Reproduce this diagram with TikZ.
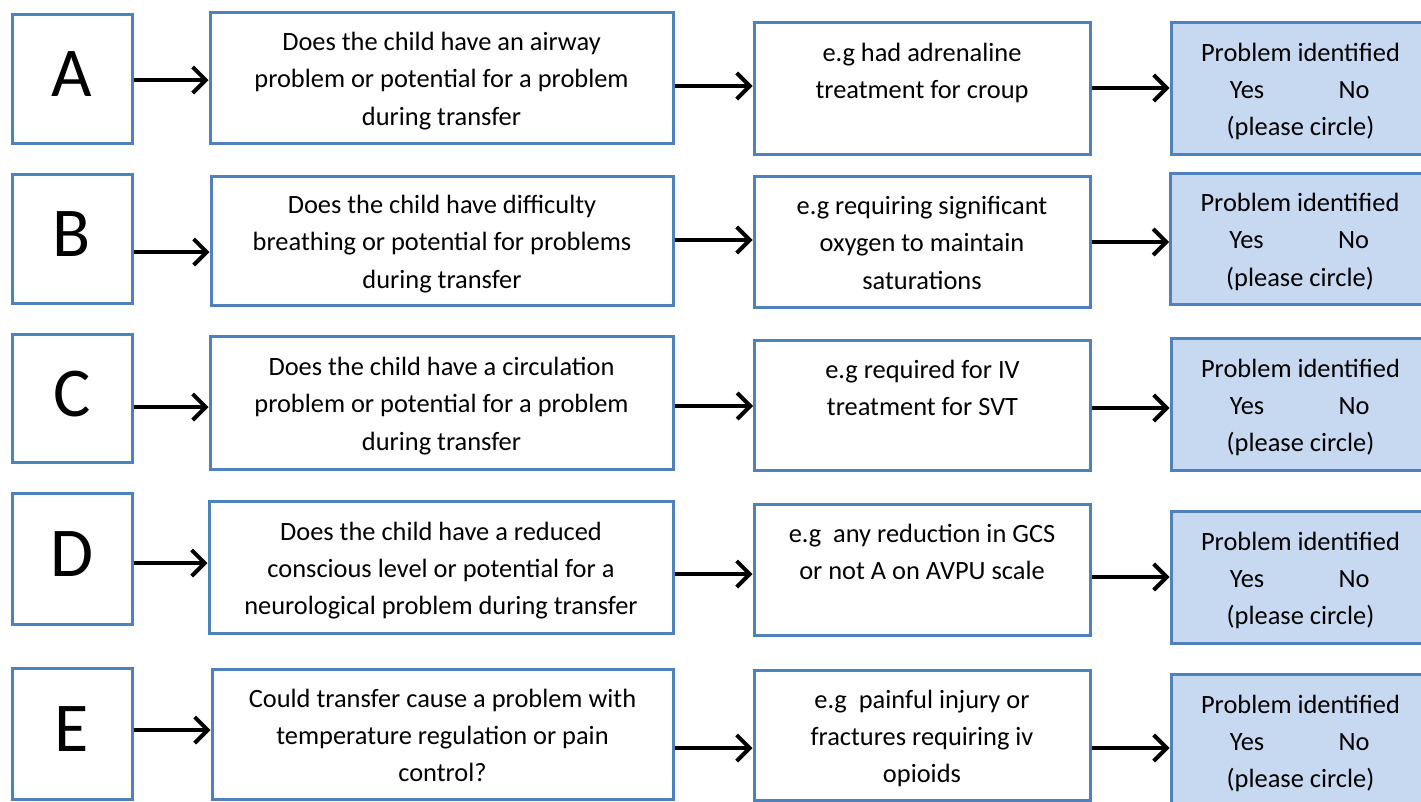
\documentclass[tikz,border=0pt]{standalone}
\usepackage{fontspec}
\setmainfont{Carlito}
\usetikzlibrary{arrows.meta}
\definecolor{boxblue}{RGB}{79,129,189}
\definecolor{fillblue}{RGB}{198,217,241}
\newcommand\myfirst{\rule{0pt}{32pt}}
\begin{document}
\begin{tikzpicture}[x=1pt,y=-1pt,
 box/.style={draw=boxblue,line width=3pt,rectangle,inner sep=0pt,align=center,font=\fontsize{26.4}{37.2}\selectfont},
 letterbox/.style={box,fill=white,minimum width=120pt,font=\fontsize{70}{80}\selectfont},
 qbox/.style={box,fill=white},
 ebox/.style={box,fill=white,minimum width=336pt},
 pbox/.style={box,fill=fillblue,minimum width=259pt},
 arr/.style={line width=3.6pt,-{Straight Barb[length=13pt,width=26pt,line width=4pt]}}]
\useasboundingbox (0,0) rectangle (1421,801);
\fill[white] (0,0) rectangle (1421,801);

% Row A
\node[letterbox,minimum height=129pt] (la) at (72,78.5) {\raisebox{9pt}{A}};
\node[qbox,minimum width=463pt,minimum height=131pt] (qa) at (441.5,77.5) {\myfirst Does the child have an airway\\problem or potential for a problem\\during transfer\strut};
\node[ebox,minimum height=132pt] (ea) at (922,88) {\myfirst e.g had adrenaline\\treatment for croup\\\strut};
\node[pbox,minimum height=132pt] (pa) at (1300.5,88) {\myfirst Problem identified\\\makebox[0pt]{Yes}\hspace{107pt}\makebox[0pt]{No}\\(please circle)\strut};

% Row B
\node[letterbox,minimum height=129pt] (lb) at (72,238.5) {\raisebox{9pt}{B}};
\node[qbox,minimum width=462pt,minimum height=129pt] (qb) at (442,240.5) {\myfirst Does the child have difficulty\\breathing or potential for problems\\during transfer\strut};
\node[ebox,minimum height=131pt] (eb) at (922,241.5) {\myfirst e.g requiring significant\\oxygen to maintain\\saturations\strut};
\node[pbox,minimum height=131pt] (pb) at (1300,238.5) {\myfirst Problem identified\\\makebox[0pt]{Yes}\hspace{107pt}\makebox[0pt]{No}\\(please circle)\strut};

% Row C
\node[letterbox,minimum height=128pt] (lc) at (72,398) {\raisebox{9pt}{C}};
\node[qbox,minimum width=463pt,minimum height=133pt] (qc) at (441.5,402.5) {\myfirst Does the child have a circulation\\problem or potential for a problem\\during transfer\strut};
\node[ebox,minimum height=130pt] (ec) at (922.5,405) {\myfirst e.g required for IV\\treatment for SVT\\\strut};
\node[pbox,minimum height=132pt] (pc) at (1300.5,404) {\myfirst Problem identified\\\makebox[0pt]{Yes}\hspace{107pt}\makebox[0pt]{No}\\(please circle)\strut};

% Row D
\node[letterbox,minimum height=131pt] (ld) at (72,558.5) {\raisebox{9pt}{D}};
\node[qbox,minimum width=464pt,minimum height=132pt] (qd) at (441,567) {\myfirst Does the child have a reduced\\conscious level or potential for a\\neurological problem during transfer\strut};
\node[ebox,minimum height=131pt] (ed) at (922,569.5) {\myfirst e.g\ \ any reduction in GCS\\or not A on AVPU scale\\\strut};
\node[pbox,minimum height=132pt] (pd) at (1300.5,577) {\myfirst Problem identified\\\makebox[0pt]{Yes}\hspace{107pt}\makebox[0pt]{No}\\(please circle)\strut};

% Row E
\node[letterbox,minimum height=131pt] (le) at (72,733.5) {\raisebox{9pt}{E}};
\node[qbox,minimum width=461pt,minimum height=130pt] (qe) at (442.5,734) {\myfirst Could transfer cause a problem with\\temperature regulation or pain\\control?\strut};
\node[ebox,minimum height=130pt] (ee) at (922,735) {\myfirst e.g\ \ painful injury or\\fractures requiring iv\\opioids\strut};
\node[pbox,minimum height=132pt] (pe) at (1300.5,740) {\myfirst Problem identified\\\makebox[0pt]{Yes}\hspace{107pt}\makebox[0pt]{No}\\(please circle)\strut};

% Arrows
\draw[arr] (la.east |- 0,80) -- (qa.west |- 0,80);
\draw[arr] (qa.east |- 0,86) -- (ea.west |- 0,86);
\draw[arr] (ea.east |- 0,88) -- (pa.west |- 0,88);

\draw[arr] (lb.east |- 0,252) -- (qb.west |- 0,252);
\draw[arr] (qb.east |- 0,240) -- (eb.west |- 0,240);
\draw[arr] (eb.east |- 0,242) -- (pb.west |- 0,242);

\draw[arr] (lc.east |- 0,407) -- (qc.west |- 0,407);
\draw[arr] (qc.east |- 0,406) -- (ec.west |- 0,406);
\draw[arr] (ec.east |- 0,408) -- (pc.west |- 0,408);

\draw[arr] (ld.east |- 0,563) -- (qd.west |- 0,563);
\draw[arr] (qd.east |- 0,574) -- (ed.west |- 0,574);
\draw[arr] (ed.east |- 0,577) -- (pd.west |- 0,577);

\draw[arr] (le.east |- 0,730) -- (qe.west |- 0,730);
\draw[arr] (qe.east |- 0,748) -- (ee.west |- 0,748);
\draw[arr] (ee.east |- 0,748) -- (pe.west |- 0,748);
\end{tikzpicture}
\end{document}
